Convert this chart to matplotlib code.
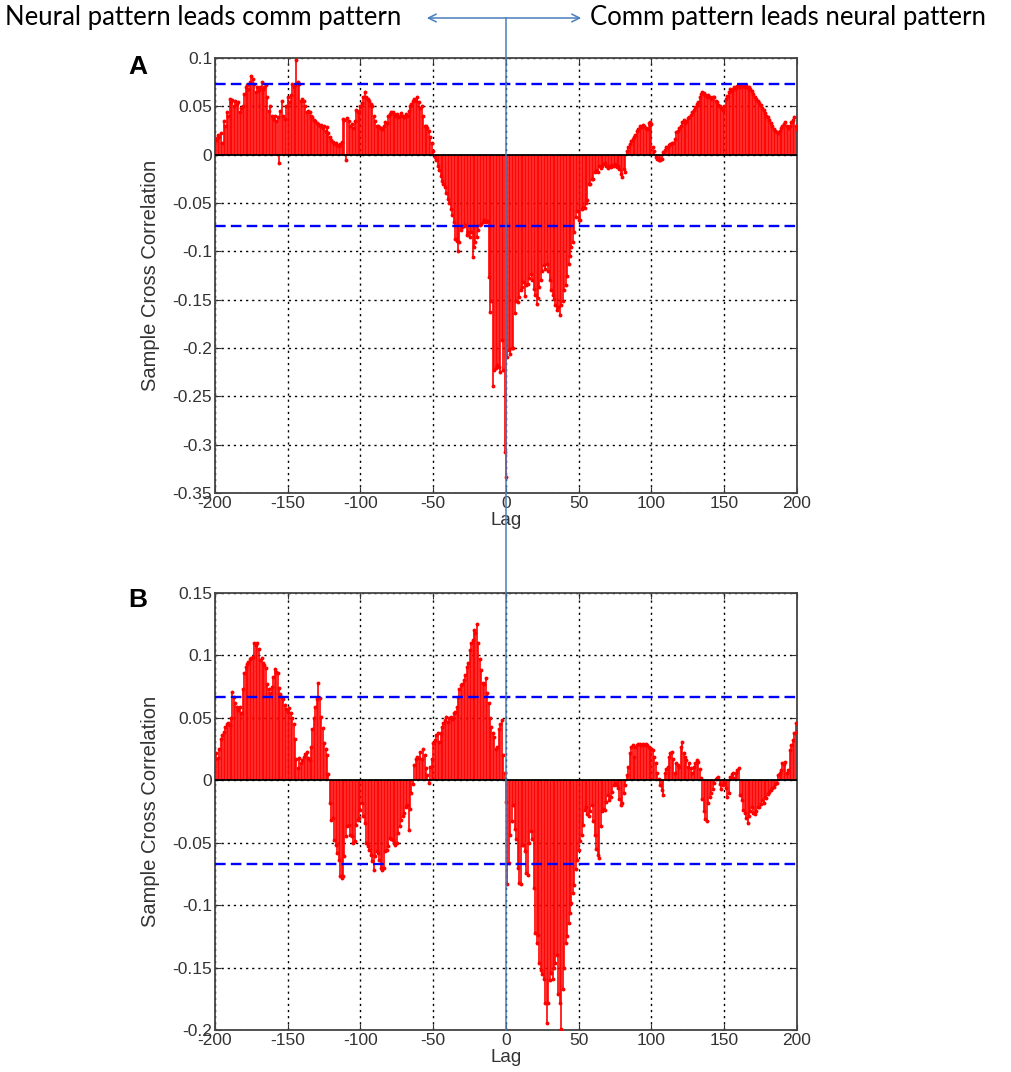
import numpy as np
import matplotlib
matplotlib.use("Agg")
import matplotlib.pyplot as plt
import matplotlib.transforms as mtransforms
from matplotlib.ticker import FuncFormatter
from matplotlib.patches import FancyArrowPatch
from matplotlib.lines import Line2D

plt.rcParams.update({
    'font.family': 'Liberation Sans',
    'axes.unicode_minus': False,
})

lags = np.arange(-200, 201)

# panel A: sample cross correlation, lags -200..200
xcorr_a = [
    0.017, 0.015, 0.020, 0.018, 0.022, 0.012, 0.035, 0.030, 0.044, 0.040,
    0.058, 0.055, 0.057, 0.050, 0.056, 0.052, 0.054, 0.044, 0.048, 0.050,
    0.063, 0.070, 0.072, 0.068, 0.075, 0.081, 0.078, 0.073, 0.065, 0.070,
    0.067, 0.070, 0.075, 0.068, 0.070, 0.072, 0.060, 0.045, 0.050, 0.040,
    0.037, 0.040, 0.035, 0.039, -0.009, 0.045, 0.056, 0.040, 0.037, 0.050,
    0.060, 0.055, 0.062, 0.073, 0.070, 0.072, 0.098, 0.075, 0.073, 0.056,
    0.058, 0.056, 0.050, 0.044, 0.045, 0.044, 0.040, 0.039, 0.036, 0.035,
    0.033, 0.032, 0.030, 0.031, 0.028, 0.030, 0.025, 0.029, 0.022, 0.018,
    0.015, 0.013, 0.011, 0.012, 0.010, 0.009, 0.011, 0.013, 0.037, 0.036,
    -0.006, 0.038, 0.035, 0.030, 0.032, 0.028, 0.035, 0.046, 0.044, 0.045,
    0.050, 0.053, 0.060, 0.065, 0.060, 0.058, 0.056, 0.052, 0.050, 0.040,
    0.035, 0.030, 0.030, 0.029, 0.028, 0.027, 0.030, 0.034, 0.033, 0.040,
    0.042, 0.044, 0.044, 0.042, 0.040, 0.042, 0.039, 0.040, 0.043, 0.040,
    0.039, 0.042, 0.040, 0.045, 0.050, 0.052, 0.056, 0.058, 0.056, 0.060,
    0.055, 0.048, 0.050, 0.040, 0.030, 0.030, 0.028, 0.025, 0.018, 0.012,
    0.004,
    -0.002, -0.006, -0.012, -0.016, -0.022, -0.027, -0.030, -0.033, -0.040, -0.046,
    -0.050, -0.056, -0.062, -0.070, -0.087, -0.089, -0.100, -0.090, -0.078, -0.075,
    -0.074, -0.073, -0.083, -0.080, -0.085, -0.080, -0.106, -0.095, -0.090, -0.085,
    -0.078, -0.073, -0.072, -0.070, -0.068, -0.070, -0.069, -0.127, -0.163, -0.151,
    -0.239, -0.223, -0.221, -0.218, -0.220, -0.225, -0.192, -0.223, -0.308, -0.333,
    -0.209, -0.202, -0.206, -0.200, -0.200, -0.164, -0.151, -0.152, -0.147, -0.140,
    -0.137, -0.132, -0.146, -0.135, -0.134, -0.128, -0.123, -0.130, -0.139, -0.145,
    -0.154, -0.148, -0.137, -0.130, -0.120, -0.114, -0.118, -0.113, -0.120, -0.130,
    -0.140, -0.145, -0.149, -0.155, -0.161, -0.158, -0.166, -0.155, -0.151, -0.140,
    -0.135, -0.125, -0.113, -0.105, -0.096, -0.090, -0.080, -0.064, -0.058, -0.068,
    -0.068, -0.056, -0.054, -0.055, -0.050, -0.047, -0.030, -0.030, -0.025, -0.025,
    -0.018, -0.016, -0.018, -0.012, -0.014, -0.012, -0.010, -0.009, -0.012, -0.014,
    -0.012, -0.013, -0.011, -0.012, -0.010, -0.013, -0.012, -0.015, -0.020, -0.023,
    -0.015, -0.018, 0.004, 0.008, 0.011, 0.014, 0.016, 0.018, 0.020, 0.025,
    0.027, 0.030, 0.029, 0.031, 0.030, 0.028, 0.027, 0.033, 0.034, 0.032,
    0.008, 0.004, -0.002, -0.004, -0.006, -0.006, -0.004, 0.003, 0.005, 0.008,
    0.008, 0.010, 0.011, 0.012, 0.012, 0.016, 0.023, 0.025, 0.028, 0.030,
    0.034, 0.036, 0.033, 0.035, 0.038, 0.039, 0.041, 0.044, 0.046, 0.049,
    0.052, 0.055, 0.060, 0.063, 0.065, 0.064, 0.062, 0.060, 0.062, 0.060,
    0.058, 0.060, 0.060, 0.056, 0.054, 0.051, 0.050, 0.048, 0.046, 0.050,
    0.058, 0.061, 0.065, 0.068, 0.066, 0.068, 0.070, 0.069, 0.071, 0.072,
    0.070, 0.072, 0.071, 0.070, 0.072, 0.069, 0.070, 0.068, 0.066, 0.063,
    0.060, 0.058, 0.056, 0.053, 0.051, 0.048, 0.046, 0.043, 0.040, 0.039,
    0.036, 0.033, 0.030, 0.027, 0.025, 0.023, 0.022, 0.024, 0.028, 0.030,
    0.032, 0.034, 0.030, 0.028, 0.030, 0.034, 0.036, 0.039, 0.030, 0.027,
]

# panel B: sample cross correlation, lags -200..200
xcorr_b = [
    0.017, 0.022, 0.018, 0.025, 0.033, 0.036, 0.039, 0.043, 0.045, 0.046,
    0.044, 0.050, 0.071, 0.067, 0.062, 0.059, 0.056, 0.059, 0.054, 0.073,
    0.086, 0.091, 0.093, 0.095, 0.097, 0.098, 0.099, 0.110, 0.108, 0.110,
    0.105, 0.096, 0.098, 0.094, 0.092, 0.090, 0.077, 0.073, 0.070, 0.075,
    0.083, 0.089, 0.087, 0.086, 0.074, 0.069, 0.067, 0.065, 0.060, 0.057,
    0.055, 0.058, 0.054, 0.050, 0.045, 0.033, 0.017, 0.010, 0.018, 0.014,
    0.016, 0.019, 0.021, 0.023, 0.018, 0.016, 0.027, 0.041, 0.050, 0.059,
    0.065, 0.078, 0.066, 0.051, 0.042, 0.030, 0.025, 0.020, 0.005, -0.018,
    -0.032, -0.030, -0.048, -0.052, -0.058, -0.064, -0.077, -0.078, -0.077, -0.061,
    -0.045, -0.037, -0.036, -0.044, -0.045, -0.050, -0.049, -0.036, -0.032, -0.030,
    -0.024, -0.018, -0.029, -0.034, -0.050, -0.053, -0.056, -0.060, -0.065, -0.072,
    -0.061, -0.057, -0.058, -0.064, -0.070, -0.072, -0.070, -0.057, -0.056, -0.053,
    -0.046, -0.047, -0.048, -0.050, -0.052, -0.050, -0.042, -0.037, -0.032, -0.029,
    -0.026, -0.021, -0.020, -0.040, -0.023, -0.010, -0.003, 0.012, 0.017, 0.019,
    0.018, 0.023, 0.017, 0.025, 0.020, 0.010, 0.004, -0.002, 0.011, 0.017,
    0.030, 0.032, 0.036, 0.038, 0.031, 0.038, 0.043, 0.046, 0.048, 0.051,
    0.047, 0.050, 0.051, 0.049, 0.054, 0.055, 0.059, 0.067, 0.073, 0.076,
    0.077, 0.080, 0.084, 0.091, 0.094, 0.104, 0.110, 0.112, 0.120, 0.118,
    0.125, 0.110, 0.097, 0.088, 0.078, 0.077, 0.082, 0.070, 0.062, 0.050,
    0.043, 0.038, 0.035, 0.025, 0.027, 0.041, 0.045, 0.048, 0.020, 0.006,
    -0.017, -0.083, -0.066, -0.044, -0.033, -0.020, -0.039, -0.047, -0.070, -0.082,
    -0.083, -0.052, -0.052, -0.057, -0.074, -0.076, -0.050, -0.041, -0.047, -0.086,
    -0.122, -0.130, -0.124, -0.146, -0.152, -0.155, -0.159, -0.178, -0.194, -0.178,
    -0.160, -0.154, -0.159, -0.150, -0.146, -0.140, -0.171, -0.178, -0.199, -0.167,
    -0.150, -0.130, -0.125, -0.114, -0.106, -0.098, -0.090, -0.084, -0.071, -0.064,
    -0.056, -0.049, -0.044, -0.036, -0.024, -0.021, -0.027, -0.029, -0.025, -0.020,
    -0.033, -0.044, -0.055, -0.060, -0.062, -0.037, -0.025, -0.023, -0.024, -0.017,
    -0.012, -0.016, -0.013, -0.009, -0.004, -0.002, -0.004, -0.006, -0.015, -0.020,
    -0.018, -0.010, -0.004, 0.004, 0.011, 0.022, 0.027, 0.028, 0.019, 0.027,
    0.028, 0.029, 0.029, 0.028, 0.029, 0.028, 0.029, 0.028, 0.027, 0.026,
    0.025, 0.024, 0.019, 0.014, 0.006, 0.001, -0.004, -0.008, -0.012, 0.006,
    0.009, 0.011, 0.019, 0.022, 0.023, 0.017, 0.006, 0.014, 0.012, 0.011,
    0.027, 0.031, 0.022, 0.019, 0.016, 0.011, 0.014, 0.010, 0.006, 0.011,
    0.014, 0.016, 0.015, 0.009, 0.002, -0.015, -0.025, -0.031, -0.033, -0.018,
    -0.013, -0.010, -0.007, -0.002, 0.001, 0.002, 0.003, -0.003, -0.007, -0.004,
    -0.002, -0.006, -0.013, -0.010, 0.003, 0.005, 0.006, 0.002, 0.006, 0.008,
    0.010, -0.012, -0.016, -0.024, -0.026, -0.030, -0.034, -0.029, -0.025, -0.021,
    -0.026, -0.027, -0.025, -0.021, -0.021, -0.019, -0.016, -0.018, -0.013, -0.014,
    -0.011, -0.009, -0.008, -0.006, -0.005, -0.003, -0.002, 0.004, 0.006, 0.008,
    0.014, 0.013, 0.015, 0.006, 0.008, 0.024, 0.028, 0.032, 0.038, 0.046, 0.039,
]

bound_a = 0.0735   # approx. 95% confidence bound
bound_b = 0.067

ylim_a = (-0.35, 0.1)
ylim_b = (-0.2, 0.15)
yticks_a = [-0.35, -0.3, -0.25, -0.2, -0.15, -0.1, -0.05, 0, 0.05, 0.1]
yticks_b = [-0.2, -0.15, -0.1, -0.05, 0, 0.05, 0.1, 0.15]
xticks = [-200, -150, -100, -50, 0, 50, 100, 150, 200]

left_text = "Neural pattern leads comm pattern"
right_text = "Comm pattern leads neural pattern"

assert len(xcorr_a) == len(lags) and len(xcorr_b) == len(lags)

W, H = 1012, 1072
fig = plt.figure(figsize=(W / 100, H / 100), dpi=100)

fmt = FuncFormatter(lambda v, p: '%g' % round(v, 3))


def draw_panel(rect, values, bound, ylim, yticks, letter, letter_y):
    ax = fig.add_axes(rect)
    ax.vlines(lags, 0, values, color='red', lw=1.2, zorder=2)
    ax.plot(lags, values, 'o', color='red', ms=2.8, mew=0, zorder=3)
    ax.axhline(0, color='black', lw=1.3, zorder=4)
    for b in (bound, -bound):
        ax.axhline(b, color='#0000ff', lw=1.7, ls=(0, (4.5, 2.2)), zorder=5)
    ax.set_xlim(-200, 200)
    ax.set_ylim(*ylim)
    ax.set_xticks(xticks)
    ax.set_yticks(yticks)
    ax.xaxis.set_major_formatter(fmt)
    ax.yaxis.set_major_formatter(fmt)
    ax.grid(True, color='black', ls=(0, (1.6, 2.8)), lw=1.0)
    ax.set_axisbelow(True)
    ax.tick_params(direction='in', length=4, width=0.8, pad=2,
                   labelsize=12.5, colors='#333333', top=True, right=True)
    for s in ax.spines.values():
        s.set_color('#444444')
        s.set_linewidth(1.3)
    ax.set_xlabel('Lag', fontsize=13.5, color='#333333', labelpad=1)
    ax.set_ylabel('Sample Cross Correlation', fontsize=14.5, color='#333333')
    ax.yaxis.set_label_coords(-0.095, 0.5)
    fig.text(138 / W, 1 - letter_y / H, letter, fontsize=19, fontweight='bold',
             ha='center', va='center')
    return ax


ax_a = draw_panel([215 / W, 1 - 493 / H, 582 / W, 435 / H],
                  xcorr_a, bound_a, ylim_a, yticks_a, 'A', 67)
ax_b = draw_panel([215 / W, 1 - 1030 / H, 582 / W, 437 / H],
                  xcorr_b, bound_b, ylim_b, yticks_b, 'B', 600)

# annotation: vertical marker at lag 0 and the lead/lag arrow
blue = '#4a7ebb'
top_y = 1 - 18 / H
trans = mtransforms.blended_transform_factory(ax_a.transData, fig.transFigure)
fig.add_artist(Line2D([0, 0], [top_y, 1 - 1030 / H], transform=trans,
                      color=blue, lw=1.1, zorder=10))
fig.add_artist(FancyArrowPatch((424 / W, top_y), (584 / W, top_y),
                               transform=fig.transFigure, arrowstyle='<->',
                               mutation_scale=14, color=blue, lw=1.1, zorder=10))

fig.text(5 / W, top_y, left_text, fontsize=18.5, family='Lato',
         ha='left', va='center')
fig.text(590 / W, top_y, right_text, fontsize=18.5, family='Lato',
         ha='left', va='center')

fig.savefig('out.png', dpi=100)
